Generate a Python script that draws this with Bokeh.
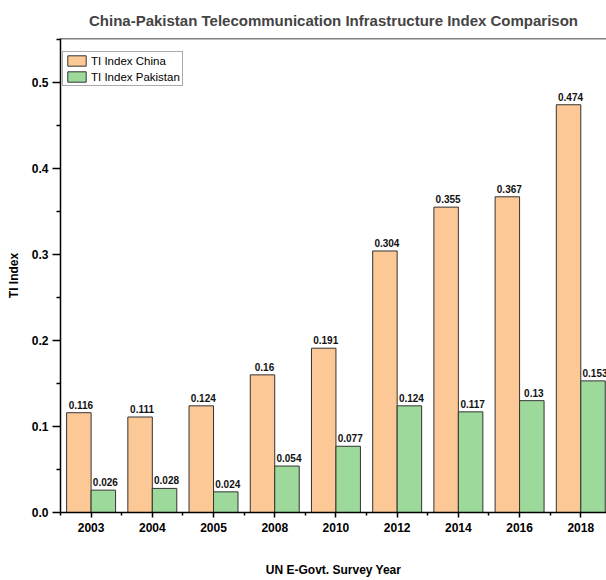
import numpy as np
from bokeh.plotting import figure
from bokeh.models import (ColumnDataSource, FixedTicker, Range1d, Span, Legend, LegendItem,
                          NumeralTickFormatter, LabelSet)
from bokeh.core.properties import value
from bokeh.transform import dodge
from bokeh.embed import file_html
from bokeh.resources import INLINE

years = ["2003", "2004", "2005", "2008", "2010", "2012", "2014", "2016", "2018"]
china = [0.116, 0.111, 0.124, 0.16, 0.191, 0.304, 0.355, 0.367, 0.474]
pakistan = [0.026, 0.028, 0.024, 0.054, 0.077, 0.124, 0.117, 0.13, 0.153]
y_ticks = [0.0, 0.1, 0.2, 0.3, 0.4, 0.5]

n = len(years)
idx = list(range(n))
src = ColumnDataSource(dict(
    x=idx, year=years, china=china, pakistan=pakistan,
    china_lbl=[f"{v:g}" for v in china], pak_lbl=[f"{v:g}" for v in pakistan],
))

FONT = "Liberation Sans"
ORANGE = "#FCC896"
GREEN = "#9DD99B"
EDGE = "#333333"

p = figure(width=606, height=580, output_backend="svg", toolbar_location=None,
           x_range=Range1d(-0.5, 8.42), y_range=Range1d(0, 0.551),
           min_border_left=60, min_border_right=0, min_border_top=37, min_border_bottom=68,
           title="China-Pakistan Telecommunication Infrastructure Index Comparison")
p.outline_line_color = None
p.xgrid.visible = False
p.ygrid.visible = False

p.title.align = "center"
p.title.text_font = FONT
p.title.text_font_size = "15px"
p.title.text_font_style = "bold"
p.title.offset = -3
p.title.standoff = 19

rc = p.vbar(x=dodge("x", -0.2, range=p.x_range), top="china", width=0.4, source=src,
            fill_color=ORANGE, line_color=EDGE, line_width=1)
rp = p.vbar(x=dodge("x", 0.2, range=p.x_range), top="pakistan", width=0.4, source=src,
            fill_color=GREEN, line_color=EDGE, line_width=1)

for col, lbl, off in [("china", "china_lbl", -0.2), ("pakistan", "pak_lbl", 0.2)]:
    ls = LabelSet(x=dodge("x", off, range=p.x_range), y=col, text=lbl, source=src,
                  text_align="center", text_baseline="bottom", x_offset=2, y_offset=4,
                  text_font=value(FONT), text_font_size=value("10px"),
                  text_font_style=value("bold"), text_color="#111111")
    p.add_layout(ls)

# top frame line
p.add_layout(Span(location=0.551, dimension="width", line_color="black", line_width=1.5))

xa = p.xaxis[0]
xa.ticker = FixedTicker(ticks=idx, minor_ticks=[i + 0.5 for i in range(-1, n)])
xa.major_label_overrides = {i: y for i, y in zip(idx, years)}
xa.axis_label = "UN E-Govt. Survey Year"
xa.axis_label_standoff = 28
xa.major_label_standoff = 5

ya = p.yaxis[0]
ya.ticker = FixedTicker(ticks=y_ticks, minor_ticks=[0.05, 0.15, 0.25, 0.35, 0.45, 0.55])
ya.formatter = NumeralTickFormatter(format="0.0")
ya.axis_label = "TI Index"
ya.axis_label_standoff = 8
ya.major_label_standoff = 4

for ax in (xa, ya):
    ax.axis_line_width = 1.5
    ax.axis_line_color = "black"
    ax.major_tick_line_width = 1.5
    ax.minor_tick_line_width = 1.5
    ax.major_tick_in = 0
    ax.minor_tick_in = 0
    ax.major_label_text_font = FONT
    ax.major_label_text_font_size = "12px"
    ax.major_label_text_font_style = "bold"
    ax.major_label_text_color = "black"
    ax.axis_label_text_font = FONT
    ax.axis_label_text_font_size = "12px"
    ax.axis_label_text_font_style = "bold"
    ax.axis_label_text_color = "black"

xa.major_tick_out = 5
xa.minor_tick_out = 3
ya.major_tick_out = 8
ya.minor_tick_out = 4

legend = Legend(items=[LegendItem(label="TI Index China", renderers=[rc]),
                       LegendItem(label="TI Index Pakistan", renderers=[rp])],
                location=(2, 426))
legend.label_text_font = FONT
legend.label_text_font_size = "11.5px"
legend.label_text_color = "black"
legend.glyph_width = 23
legend.glyph_height = 13
legend.label_height = 13
legend.label_standoff = 3
legend.padding = 2
legend.spacing = 3
legend.margin = 0
legend.border_line_color = "#555555"
legend.border_line_width = 1.5
legend.background_fill_alpha = 1
p.add_layout(legend, "center")

open("out.html", "w").write(file_html(p, INLINE))
